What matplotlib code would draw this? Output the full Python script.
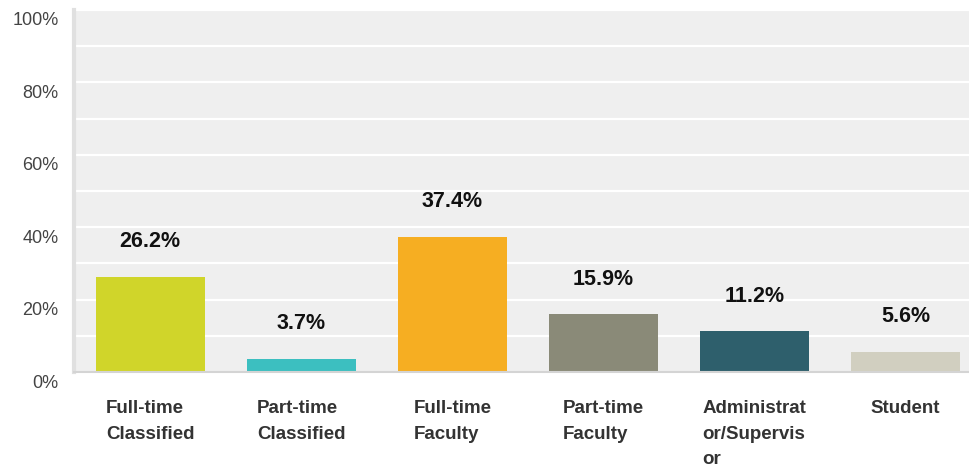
import matplotlib.pyplot as plt
import matplotlib.transforms as mtransforms

# Survey response shares by employee group
categories = ['Full-time\nClassified', 'Part-time\nClassified', 'Full-time\nFaculty',
              'Part-time\nFaculty', 'Administrat\nor/Supervis\nor', 'Student']
values = [26.2, 3.7, 37.4, 15.9, 11.2, 5.6]
colors = ['#d0d52a', '#3cbfc0', '#f6ae22', '#8a8a78', '#2e5f6c', '#d1cfc0']
y_ticks = [0, 20, 40, 60, 80, 100]
y_tick_labels = ['0%', '20%', '40%', '60%', '80%', '100%']

plt.rcParams['font.family'] = ['Liberation Sans', 'DejaVu Sans']

fig = plt.figure(figsize=(9.69, 4.68), dpi=100)
ax = fig.add_axes([74 / 969, 96 / 468, 1 - 74 / 969, 362 / 468])
ax.set_facecolor('#efefef')

x = list(range(len(categories)))
ax.bar(x, values, width=0.72, color=colors, zorder=3)

# white grid every 10%
for g in range(10, 101, 10):
    ax.axhline(g, color='white', linewidth=1.6, zorder=1)

# value labels above bars
for xi, v in zip(x, values):
    ax.annotate(f'{v}%', (xi, v), xytext=(0, 25.5), textcoords='offset points',
                ha='center', va='center', fontsize=15.5, fontweight='bold',
                color='#111111')

ax.set_xlim(-0.505, 5.42)
ax.set_ylim(0, 100)

ax.set_yticks(y_ticks)
ax.set_yticklabels(y_tick_labels, fontsize=13, color='#444444')
ax.tick_params(axis='y', length=0, pad=11)
for lab in ax.get_yticklabels():
    lab.set_transform(lab.get_transform() +
                      mtransforms.ScaledTranslation(0, -9 / 100, fig.dpi_scale_trans))

ax.set_xticks(x)
ax.set_xticklabels(categories, fontsize=13.5, fontweight='bold', color='#333333',
                   linespacing=1.68, multialignment='left')
ax.tick_params(axis='x', length=0, pad=20)

for side in ['top', 'right']:
    ax.spines[side].set_visible(False)
ax.spines['left'].set_color('#e0e0e0')
ax.spines['left'].set_linewidth(3)
ax.spines['bottom'].set_color('#d4d4d4')
ax.spines['bottom'].set_linewidth(1.5)
ax.spines['left'].set_zorder(4)
ax.spines['bottom'].set_zorder(4)

fig.savefig('out.png', dpi=100)
